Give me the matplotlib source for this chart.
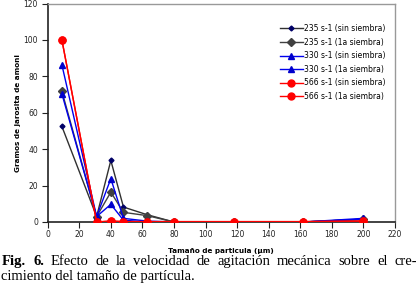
import matplotlib
matplotlib.use("Agg")
import matplotlib.pyplot as plt

sizes = [9, 31, 40, 48, 63, 80, 118, 162, 200]
s235_sin = [52.5, 3, 33.8, 8.2, 4.0, 0, 0, 0, 1.5]
s235_1a = [71.8, 3, 16.4, 5.3, 3.5, 0, 0, 0, 1.5]
s330_sin = [86.3, 3, 23.8, 2.0, 0.5, 0, 0, 0, 2.0]
s330_1a = [70.4, 3, 9.7, 1.0, 0, 0, 0, 0, 1.5]
s566_sin = [100, 0, 0.5, 0.2, 0.2, 0.2, 0.2, 0.2, 0.5]
s566_1a = [100, 0, 0.5, 0.2, 0.2, 0.2, 0.2, 0.2, 0.5]
labels = ["235 s-1 (sin siembra)", "235 s-1 (1a siembra)", "330 s-1 (sin siembra)",
          "330 s-1 (1a siembra)", "566 s-1 (sin siembra)", "566 s-1 (1a siembra)"]
xticks = list(range(0, 221, 20))
yticks = list(range(0, 121, 20))

W, H = 419, 287
fig = plt.figure(figsize=(W / 100, H / 100), dpi=100)
ax = fig.add_axes([0.1138, 0.2265, 0.8289, 0.7613])

ax.plot(sizes, s235_sin, color="#303030", lw=1.0, marker="D", ms=2.5,
        mfc="#000066", mec="#000066", label=labels[0], zorder=3)
ax.plot(sizes, s235_1a, color="#404040", lw=1.0, marker="D", ms=4.5,
        mfc="#404040", mec="#404040", label=labels[1], zorder=3)
ax.plot(sizes, s330_sin, color="#0000EE", lw=1.0, marker="^", ms=5,
        mfc="#0000CC", mec="#0000CC", label=labels[2], zorder=4)
ax.plot(sizes, s330_1a, color="#0000EE", lw=1.0, marker="^", ms=5,
        mfc="#0000CC", mec="#0000CC", label=labels[3], zorder=4)
ax.plot(sizes, s566_sin, color="#FF0000", lw=1.0, marker="o", ms=5,
        mfc="#FF0000", mec="#FF0000", label=labels[4], zorder=5)
ax.plot(sizes, s566_1a, color="#FF0000", lw=1.0, marker="o", ms=5,
        mfc="#FF0000", mec="#FF0000", label=labels[5], zorder=5)

ax.set_xlim(0, 220)
ax.set_ylim(0, 120)
ax.set_xticks(xticks)
ax.set_yticks(yticks)
ax.tick_params(axis="both", direction="out", length=4, width=0.8,
               labelsize=5.5, colors="#222222")
ax.tick_params(axis="y", pad=3)
ax.tick_params(axis="x", pad=2)
for side in ["left", "bottom"]:
    ax.spines[side].set_color("#222222")
    ax.spines[side].set_linewidth(1.2)
for side in ["top", "right"]:
    ax.spines[side].set_color("#999999")
    ax.spines[side].set_linewidth(1.0)

ax.set_xlabel("Tamaño de particula (µm)", fontsize=5.2, fontweight="bold", labelpad=6)
ax.set_ylabel("Gramos de jarosita de amoni", fontsize=5.2, fontweight="bold", labelpad=2)

leg = ax.legend(loc="upper left", bbox_to_anchor=(0.66, 0.92), frameon=False,
                fontsize=5.5, handlelength=3.0, handletextpad=0.2,
                labelspacing=0.6, borderaxespad=0)

# Caption: first line justified between x=2px and x=417px
fs = 10.5
fam = "Liberation Serif"
words = [("Fig.", "bold"), ("6.", "bold"), ("Efecto", "normal"), ("de", "normal"),
         ("la", "normal"), ("velocidad", "normal"), ("de", "normal"),
         ("agitación", "normal"), ("mecánica", "normal"), ("sobre", "normal"),
         ("el", "normal"), ("cre-", "normal")]
renderer = fig.canvas.get_renderer()
texts = []
widths = []
for w, wt in words:
    t = fig.text(0, 0.088, w, family=fam, fontsize=fs, fontweight=wt, va="center")
    bb = t.get_window_extent(renderer=renderer)
    texts.append(t)
    widths.append(bb.width)
left, right = 2.0, 417.0
gap = (right - left - sum(widths)) / (len(words) - 1)
xpos = left
for t, wd in zip(texts, widths):
    t.set_x(xpos / W)
    xpos += wd + gap
fig.text(1.0 / W, 0.038, "cimiento del tamaño de partícula.",
         family=fam, fontsize=fs, va="center")

fig.savefig("out.png", dpi=100)
